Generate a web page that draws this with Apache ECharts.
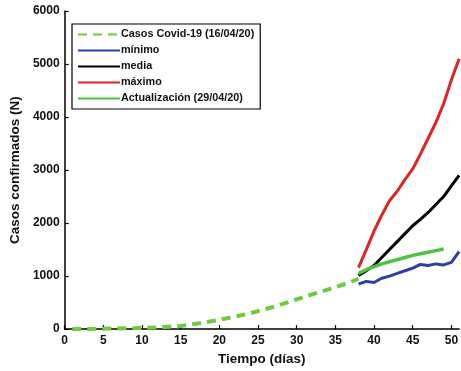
<!DOCTYPE html>
<html>
<head>
<meta charset="utf-8">
<script src="https://cdn.jsdelivr.net/npm/echarts@6/dist/echarts.min.js"></script>
<style>
  html, body { margin: 0; padding: 0; background: #fff; }
  #chart { width: 461px; height: 371px; }
</style>
</head>
<body>
<div id="chart"></div>
<script>
// Reported cases, days 1..38
const casosDias = [1,2,3,4,5,6,7,8,9,10,11,12,13,14,15,16,17,18,19,20,21,22,23,24,25,26,27,28,29,30,31,32,33,34,35,36,37,38];
const casosValores = [2,3,4,5,7,10,12,14,17,22,26,33,40,50,60,80,100,125,150,175,205,235,265,300,340,380,420,465,510,560,610,655,700,745,790,840,890,950];

// Projection scenarios, days 38..51
const proyDias = [38,39,40,41,42,43,44,45,46,47,48,49,50,51];
const minimoValores = [850,900,880,960,1000,1050,1100,1150,1220,1200,1230,1210,1260,1460];
const mediaValores  = [1010,1100,1200,1350,1500,1650,1800,1950,2070,2200,2350,2500,2700,2900];
const maximoValores = [1160,1500,1850,2150,2420,2600,2820,3020,3300,3600,3900,4250,4700,5100];

// Update, days 38..49
const actDias = [38,39,40,41,42,43,44,45,46,47,48,49];
const actValores = [1050,1120,1180,1230,1270,1310,1350,1390,1420,1450,1480,1510];

const nombres = ['Casos Covid-19 (16/04/20)', 'mínimo', 'media', 'máximo', 'Actualización (29/04/20)'];

const zip = (xs, ys) => xs.map((x, i) => [x, ys[i]]);
const FONT = '"Liberation Sans", Arial, sans-serif';

const chart = echarts.init(document.getElementById('chart'), null, { renderer: 'canvas' });

chart.setOption({
  animation: false,
  backgroundColor: '#ffffff',
  grid: { left: 62, top: 11, right: 0, bottom: 41, containLabel: false },
  legend: {
    orient: 'vertical',
    left: 72,
    top: 24,
    padding: [5, 6, 5, 5],
    itemGap: 5,
    itemWidth: 42,
    itemHeight: 10,
    borderColor: '#000',
    borderWidth: 1.2,
    backgroundColor: '#fff',
    itemStyle: { opacity: 0 },
    textStyle: { fontFamily: FONT, fontWeight: 'bold', fontSize: 10.8, color: '#111', padding: [0, 0, 0, -4] },
    data: nombres
  },
  xAxis: {
    type: 'value',
    min: 0,
    max: 51,
    interval: 5,
    name: 'Tiempo (días)',
    nameLocation: 'middle',
    nameGap: 20,
    nameTextStyle: { fontFamily: FONT, fontWeight: 'bold', fontSize: 13.5, color: '#111' },
    axisLine: { show: true, lineStyle: { color: '#000', width: 1.5 } },
    axisTick: { show: true, inside: true, length: 4, lineStyle: { color: '#000', width: 1.2 } },
    axisLabel: { fontFamily: FONT, fontWeight: 'bold', fontSize: 12, color: '#111', margin: 6, showMaxLabel: false },
    splitLine: { show: false }
  },
  yAxis: {
    type: 'value',
    min: 0,
    max: 6000,
    interval: 1000,
    name: 'Casos confirmados (N)',
    nameLocation: 'middle',
    nameGap: 35,
    nameTextStyle: { fontFamily: FONT, fontWeight: 'bold', fontSize: 13.5, color: '#111' },
    axisLine: { show: true, lineStyle: { color: '#000', width: 1.5 } },
    axisTick: { show: true, inside: true, length: 4, lineStyle: { color: '#000', width: 1.2 } },
    axisLabel: { fontFamily: FONT, fontWeight: 'bold', fontSize: 12, color: '#111', margin: 5, formatter: v => String(v) },
    splitLine: { show: false }
  },
  series: [
    {
      name: nombres[0], type: 'line', data: zip(casosDias, casosValores),
      symbol: 'none', clip: true,
      lineStyle: { color: '#6ccc3c', width: 4, type: [9, 6] },
      itemStyle: { color: '#6ccc3c' }
    },
    {
      name: nombres[1], type: 'line', data: zip(proyDias, minimoValores),
      symbol: 'none', clip: true,
      lineStyle: { color: '#2b3fa8', width: 3 },
      itemStyle: { color: '#2b3fa8' }
    },
    {
      name: nombres[2], type: 'line', data: zip(proyDias, mediaValores),
      symbol: 'none', clip: true,
      lineStyle: { color: '#000000', width: 3 },
      itemStyle: { color: '#000000' }
    },
    {
      name: nombres[3], type: 'line', data: zip(proyDias, maximoValores),
      symbol: 'none', clip: true,
      lineStyle: { color: '#e02323', width: 3 },
      itemStyle: { color: '#e02323' }
    },
    {
      name: nombres[4], type: 'line', data: zip(actDias, actValores),
      symbol: 'none', clip: true,
      lineStyle: { color: '#4cc340', width: 3.5 },
      itemStyle: { color: '#4cc340' }
    }
  ]
});
</script>
</body>
</html>
